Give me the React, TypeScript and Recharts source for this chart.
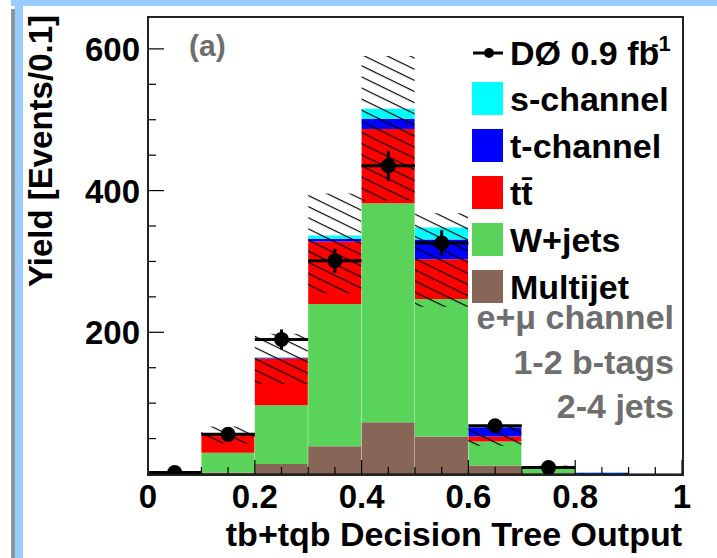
import React from 'react';
import { ComposedChart, Bar, Scatter, ErrorBar, XAxis, YAxis, Legend } from 'recharts';

// bins of the decision tree output (width 0.1)
const bins = ['0.0', '0.1', '0.2', '0.3', '0.4', '0.5', '0.6', '0.7', '0.8', '0.9'];
const binCenters = [0.05, 0.15, 0.25, 0.35, 0.45, 0.55, 0.65, 0.75, 0.85, 0.95];

// stacked backgrounds / signal (events per bin)
const multijet = [0.2, 2, 14, 39, 73, 53, 12, 1, 0, 0];
const wJets = [0.6, 28, 83, 201, 309, 194, 34, 7.5, 0.2, 0];
const ttbar = [0.1, 27, 66, 88, 105, 56, 7, 0.5, 0.1, 0];
const tChannel = [0, 0.5, 1, 4, 14.5, 28, 13, 1.2, 1.5, 0];
const sChannel = [0, 0.2, 0.5, 4.5, 14, 17, 1, 0.3, 0.2, 0];

// hatched uncertainty band
const bandLow = [null, 43, 127, 255, 386, 236, 40, 8, 0, null];
const bandHigh = [null, 67, 198, 396, 590, 368, 68, 12, 1.5, null];

// D0 data
const dataX = [0.05, 0.15, 0.25, 0.35, 0.45, 0.55, 0.65, 0.75];
const dataY = [2, 56, 190, 301, 435, 326, 68, 9];
const dataErr = [1.4, 7.5, 14, 17, 21, 18, 8, 3];

const xTicks = [0, 0.05, 0.1, 0.15, 0.2, 0.25, 0.3, 0.35, 0.4, 0.45, 0.5, 0.55, 0.6, 0.65, 0.7, 0.75, 0.8, 0.85, 0.9, 0.95, 1];
const yTicks = [0, 50, 100, 150, 200, 250, 300, 350, 400, 450, 500, 550, 600];
const yMax = 645;

const legendItems = [
  { name: 's-channel', color: '#00ffff' },
  { name: 't-channel', color: '#0000ff' },
  { name: 'tt\u0304', color: '#ff0000' },
  { name: 'W+jets', color: '#5ad35a' },
  { name: 'Multijet', color: '#876657' },
];
const channelText = ['e+\u03bc channel', '1-2 b-tags', '2-4 jets'];

const rows = bins.map((bin, i) => ({
  bin,
  x: binCenters[i],
  multijet: multijet[i],
  wJets: wJets[i],
  ttbar: ttbar[i],
  tChannel: tChannel[i],
  sChannel: sChannel[i],
  band: bandLow[i] == null ? null : [bandLow[i], bandHigh[i]],
}));

const points = dataX.map((x, i) => ({ x, y: dataY[i], xErr: 0.05, yErr: dataErr[i] }));

const FONT = "'Liberation Sans', Arial, sans-serif";
const GREY = '#6e6e6e';

function XTick(props: any) {
  const { x, payload } = props;
  const v = payload.value;
  const major = Math.abs(v * 5 - Math.round(v * 5)) < 1e-6;
  const label = v === 0 ? '0' : v === 1 ? '1' : v.toFixed(1);
  return (
    <g>
      <line x1={x} y1={474} x2={x} y2={474 - (major ? 14 : 7)} stroke="#000" strokeWidth={1.2} />
      {major && (
        <text x={x} y={508} textAnchor="middle" fontFamily={FONT} fontWeight="bold" fontSize={33} fill="#000">
          {label}
        </text>
      )}
    </g>
  );
}

function YTick(props: any) {
  const { y, payload } = props;
  const v = payload.value;
  const major = v % 200 === 0;
  return (
    <g>
      <line x1={148} y1={y} x2={148 + (major ? 16 : 8)} y2={y} stroke="#000" strokeWidth={1.2} />
      {major && v > 0 && (
        <text x={140} y={y + 12} textAnchor="end" fontFamily={FONT} fontWeight="bold" fontSize={33} fill="#000">
          {v}
        </text>
      )}
    </g>
  );
}

function Dot(props: any) {
  return <circle cx={props.cx} cy={props.cy} r={7.5} fill="#000" />;
}

function LegendBox() {
  return (
    <svg width={717} height={558} style={{ position: 'absolute', left: 0, top: 0, pointerEvents: 'none' }}>
      <g fontFamily={FONT} fontWeight="bold">
        <line x1={473} y1={53} x2={503} y2={53} stroke="#000" strokeWidth={3} />
        <circle cx={489} cy={53} r={5} fill="#000" />
        <text x={510} y={65} fontSize={34} fill="#000">
          {'D\u00d8 0.9 fb'}
          <tspan dx={-8} dy={-14} fontSize={22}>-1</tspan>
        </text>
        {legendItems.map((it, i) => (
          <g key={it.name}>
            <rect x={472} y={82 + i * 47} width={31} height={33} fill={it.color} />
            <text x={510} y={111 + i * 47} fontSize={34} fill="#000">{it.name}</text>
          </g>
        ))}
        {channelText.map((t, i) => (
          <text key={t} x={674} y={329 + i * 44.5} fontSize={34} fill={GREY} textAnchor="end">{t}</text>
        ))}
      </g>
    </svg>
  );
}

export default function App() {
  return (
    <div style={{ position: 'absolute', left: 0, top: 0, width: 717, height: 558, background: '#fff', overflow: 'hidden' }}>
      <div style={{ position: 'absolute', left: 11, top: 0, width: 706, height: 6, background: '#99ccff' }} />
      <div style={{ position: 'absolute', left: 11, top: 9, width: 4, height: 549, background: '#8c96a0' }} />
      <div style={{ position: 'absolute', left: 15, top: 0, width: 8, height: 558, background: '#99ccff' }} />

      <div style={{ position: 'absolute', left: 0, top: 0 }}>
        <ComposedChart
          width={717}
          height={558}
          data={rows}
          margin={{ top: 17, right: 35, bottom: 83, left: 147 }}
          barCategoryGap={0}
          barGap={0}
        >
          <defs>
            <pattern id="hatch" patternUnits="userSpaceOnUse" width={10} height={10} patternTransform="rotate(26)">
              <line x1={0} y1={0.5} x2={10} y2={0.5} stroke="#000" strokeWidth={1.3} />
            </pattern>
          </defs>

          <XAxis
            xAxisId="num"
            dataKey="x"
            type="number"
            domain={[0, 1]}
            ticks={xTicks}
            interval={0}
            height={1}
            tickSize={0}
            tickMargin={0}
            tickLine={false}
            tick={XTick}
            axisLine={{ stroke: '#000', strokeWidth: 1 }}
            allowDataOverflow
          />
          <YAxis
            yAxisId="y"
            type="number"
            domain={[0, yMax]}
            ticks={yTicks}
            interval={0}
            width={1}
            tickSize={0}
            tickMargin={0}
            tickLine={false}
            tick={YTick}
            axisLine={{ stroke: '#000', strokeWidth: 1 }}
            allowDataOverflow
          />
          <XAxis xAxisId="cat" dataKey="bin" type="category" height={0} hide />
          <XAxis xAxisId="cat2" dataKey="bin" type="category" height={0} hide />
          <YAxis yAxisId="y2" type="number" domain={[0, yMax]} width={0} allowDataOverflow hide />

          <Bar xAxisId="cat" yAxisId="y" dataKey="multijet" stackId="mc" fill="#876657" isAnimationActive={false} />
          <Bar xAxisId="cat" yAxisId="y" dataKey="wJets" stackId="mc" fill="#5ad35a" isAnimationActive={false} />
          <Bar xAxisId="cat" yAxisId="y" dataKey="ttbar" stackId="mc" fill="#ff0000" isAnimationActive={false} />
          <Bar xAxisId="cat" yAxisId="y" dataKey="tChannel" stackId="mc" fill="#0000ff" isAnimationActive={false} />
          <Bar xAxisId="cat" yAxisId="y" dataKey="sChannel" stackId="mc" fill="#00ffff" isAnimationActive={false} />
          <Bar xAxisId="cat2" yAxisId="y2" dataKey="band" fill="url(#hatch)" isAnimationActive={false} />

          <Scatter xAxisId="num" yAxisId="y" data={points} dataKey="y" fill="#000" shape={Dot} isAnimationActive={false}>
            <ErrorBar dataKey="xErr" direction="x" width={0} stroke="#000" strokeWidth={3} isAnimationActive={false} />
            <ErrorBar dataKey="yErr" direction="y" width={0} stroke="#000" strokeWidth={3} isAnimationActive={false} />
          </Scatter>

          <Legend
            layout="horizontal"
            align="center"
            verticalAlign="middle"
            content={LegendBox}
            wrapperStyle={{ position: 'absolute', left: 0, top: 0, width: 717, height: 558, pointerEvents: 'none' }}
          />
        </ComposedChart>
      </div>

      {/* plot frame */}
      <div
        style={{
          position: 'absolute',
          left: 147,
          top: 16,
          width: 533,
          height: 456,
          border: '2px solid #222',
          pointerEvents: 'none',
        }}
      />

      <svg width={717} height={558} style={{ position: 'absolute', left: 0, top: 0, pointerEvents: 'none' }}>
        <g fontFamily={FONT} fontWeight="bold">
          <text x={189} y={56} fontSize={30} fill={GREY}>(a)</text>
          <text x={682} y={546} fontSize={34} textAnchor="end" fill="#000">tb+tqb Decision Tree Output</text>
          <text transform="translate(52, 15) rotate(-90)" fontSize={33} textAnchor="end" fill="#000">Yield [Events/0.1]</text>
        </g>
      </svg>
    </div>
  );
}
